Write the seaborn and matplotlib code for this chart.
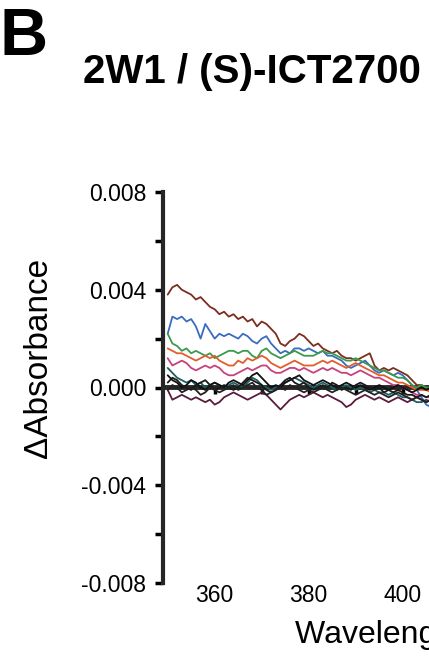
import numpy as np
import pandas as pd
import matplotlib
matplotlib.use("Agg")
import matplotlib.pyplot as plt
import seaborn as sns

# wavelength grid (nm) and difference spectra, in units of 1e-4 absorbance
wavelength = list(range(350, 407))

brown = [38, 41, 42, 40, 39, 38, 36, 37, 35, 33, 32, 30, 31, 29, 30, 28, 29, 27, 28, 25,
         27, 26, 24, 22, 18, 17, 19, 20, 22, 21, 19, 17, 18, 16, 15, 14, 15, 13, 12, 12,
         11, 12, 13, 14, 9, 7, 8, 7, 8, 7, 6, 5, 3, 1, 1, 0, 0]
blue = [22, 29, 28, 29, 27, 28, 25, 20, 26, 23, 20, 22, 21, 22, 21, 20, 22, 21, 19, 18,
        20, 21, 18, 16, 14, 15, 14, 16, 16, 15, 16, 15, 14, 15, 13, 13, 12, 11, 9, 8,
        9, 10, 11, 9, 7, 6, 7, 6, 5, 6, 5, 3, 1, -1, -4, -7, -8]
green = [22, 18, 17, 15, 16, 14, 15, 14, 13, 14, 12, 13, 14, 15, 15, 14, 15, 15, 13, 12,
         15, 16, 14, 13, 12, 13, 14, 15, 14, 13, 13, 13, 14, 15, 14, 14, 13, 12, 11, 11,
         12, 11, 10, 9, 8, 7, 7, 6, 5, 4, 4, 3, 1, 0, 1, 0, 0]
orange = [16, 15, 14, 14, 13, 12, 11, 12, 13, 12, 13, 11, 10, 9, 9, 11, 10, 12, 11, 12,
          13, 12, 10, 9, 8, 9, 10, 11, 10, 9, 9, 9, 10, 11, 10, 11, 10, 9, 8, 9,
          10, 9, 8, 7, 6, 5, 5, 4, 3, 2, 2, 1, 0, -1, -1, -1, -2]
pink = [12, 9, 10, 11, 10, 8, 7, 8, 9, 8, 9, 8, 6, 5, 5, 6, 7, 8, 7, 8,
        9, 9, 7, 6, 6, 7, 8, 8, 7, 8, 7, 6, 7, 8, 7, 8, 7, 6, 6, 5,
        6, 7, 6, 5, 4, 4, 3, 2, 1, 1, 0, -1, -2, -3, -3, -4, -4]
teal = [8, 6, 4, 3, 2, 3, 1, 2, 0, 1, 2, 1, 0, 1, 2, 1, 0, 2, 4, 3,
        1, 0, -1, 0, 1, 2, 3, 4, 3, 2, 1, 0, 1, 2, 1, 0, -1, 0, 1, 0,
        -1, 0, -1, -2, -1, -2, -2, -3, -2, -3, -4, -4, -5, -6, -6, -5, -6]
maroon = [-1, -5, -4, -3, -4, -5, -4, -5, -6, -5, -7, -6, -4, -3, -2, -3, -4, -5, -4, -3,
          -2, -3, -5, -7, -9, -7, -5, -4, -3, -4, -3, -2, -3, -4, -3, -4, -5, -6, -8, -7,
          -5, -4, -3, -4, -5, -4, -5, -6, -5, -4, -5, -6, -5, -4, -5, -6, -5]
black1 = [5, 3, 2, 0, 1, 3, 2, 0, -1, 1, 2, 1, 0, 2, 3, 2, 1, 3, 5, 6,
          4, 2, 0, 1, 0, 2, 3, 4, 5, 3, 2, 1, 2, 3, 2, 1, 0, 1, 2, 1,
          0, 1, 0, -1, 0, 1, 0, -1, 0, 1, 0, -1, -2, -1, 0, -1, 0]
black2 = [2, 4, 3, 1, 0, -1, 1, 2, 3, 1, -1, 0, 1, 0, -1, 0, 2, 4, 3, 2,
          1, -1, -2, -1, 1, 3, 4, 2, 1, 2, 0, -1, 0, 1, 0, 2, 1, -1, 0, -1,
          1, 2, 1, 0, -1, 0, -2, -1, -2, -1, -2, -3, -3, -4, -3, -4, -3]
black3 = [-1, 1, 0, -2, -1, 0, -1, -3, -2, 0, -1, -2, -1, 0, 1, -1, 0, 1, 2, 0,
          -1, -3, -2, -1, 0, -1, 1, 0, -1, -2, -1, -2, -1, 0, -1, -2, -1, 0, -1, -2,
          -3, -2, -1, -2, -3, -2, -3, -4, -3, -2, -3, -4, -5, -4, -5, -6, -5]

traces = {
    "brown": brown, "blue": blue, "green": green, "orange": orange, "pink": pink,
    "teal": teal, "maroon": maroon, "black1": black1, "black2": black2, "black3": black3,
}
palette = {
    "brown": "#7b2d1e", "blue": "#3a6cc0", "green": "#3b9a4c", "orange": "#e35d2c",
    "pink": "#c7427c", "teal": "#1d5f63", "maroon": "#5a1c3c",
    "black1": "#111111", "black2": "#1a1a1a", "black3": "#222222",
}

rows = []
for name, vals in traces.items():
    for wl, v in zip(wavelength, vals):
        rows.append({"wl": wl, "dA": v * 1e-4, "trace": name})
df = pd.DataFrame(rows)

sns.set_style("ticks")
plt.rcParams["font.family"] = ["Liberation Sans", "DejaVu Sans"]
plt.rcParams["text.color"] = "black"
plt.rcParams["axes.labelcolor"] = "black"
plt.rcParams["xtick.color"] = "black"
plt.rcParams["ytick.color"] = "black"

fig = plt.figure(figsize=(4.29, 6.56), dpi=100)
ax = fig.add_axes([163 / 429, 1 - 583 / 656, 1 - 163 / 429, (583 - 192) / 656])

sns.lineplot(data=df, x="wl", y="dA", hue="trace", hue_order=list(traces.keys()),
             palette=palette, linewidth=1.3, legend=False, ax=ax)

ax.set_xlim(349, 405.6)
ax.set_ylim(-0.008, 0.008)
ax.set_yticks([-0.008, -0.004, 0.0, 0.004, 0.008])
ax.set_yticklabels(["-0.008", "-0.004", "0.000", "0.004", "0.008"])
ax.set_yticks([-0.006, -0.002, 0.002, 0.006], minor=True)
ax.tick_params(axis="y", which="both", direction="out", length=6, width=2.5,
               labelsize=16.5, pad=6)

for s in ["top", "right", "bottom"]:
    ax.spines[s].set_visible(False)
ax.spines["left"].set_linewidth(3)

# tick labels along the bottom, no axis line
ax.set_xticks([360, 380, 400])
ax.tick_params(axis="x", length=0, labelsize=16.5, pad=1)

# zero line acting as the x axis (secondary axis at the middle uses the "top" side)
zero_ax = ax.secondary_xaxis(0.5)
zero_ax.set_xticks([360, 370, 380, 390, 400])
zero_ax.set_xticklabels([])
zero_ax.tick_params(axis="x", which="both", direction="in", length=5, width=2.5,
                    labeltop=False, labelbottom=False)
for s in zero_ax.spines.values():
    s.set_linewidth(3.5)

ax.set_xlabel("Wavelength (nm)", fontsize=23, ha="left")
ax.xaxis.set_label_coords((295 - 163) / (429 - 163), -0.095)
ax.set_ylabel("\u0394Absorbance", fontsize=24, va="center")
ax.yaxis.set_label_coords((39 - 163) / (429 - 163), (583 - 358) / (583 - 192))

fig.text(0.0, 1 - 38 / 656, "B", fontsize=48, fontweight="bold", va="center", ha="left")
fig.text(252 / 429, 1 - 72 / 656, "2W1 / (S)-ICT2700", fontsize=29, fontweight="bold",
         va="center", ha="center")

fig.savefig("out.png", dpi=100)
